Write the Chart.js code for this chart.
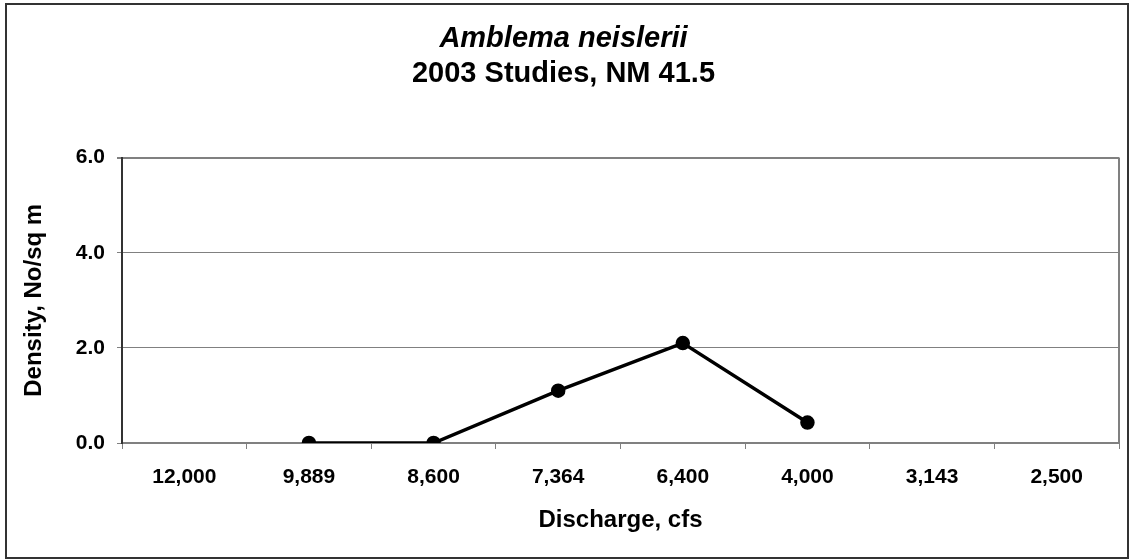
<!DOCTYPE html>
<html>
<head>
<meta charset="utf-8">
<script src="https://cdn.jsdelivr.net/npm/chart.js@4.4.1/dist/chart.umd.min.js"></script>
<style>
    html, body { margin: 0; padding: 0; background: #fff; }
    #wrap { width: 1130px; height: 560px; }
</style>
</head>
<body>
<div id="wrap"><canvas id="grafica" width="1130" height="560"></canvas></div>
<script>
const descargas = ['12,000', '9,889', '8,600', '7,364', '6,400', '4,000', '3,143', '2,500'];
const densidad = [null, 0, 0, 1.1, 2.1, 0.43, null, null];
const ticksY = [0, 2, 4, 6];

const fuente = "'Liberation Sans', Arial, sans-serif";

// marco exterior y borde derecho del área de trazado
const marco = {
    id: 'marco',
    beforeDraw(chart) {
        const ctx = chart.ctx;
        ctx.save();
        ctx.fillStyle = '#fff';
        ctx.fillRect(0, 0, chart.width, chart.height);
        ctx.restore();
    },
    afterDraw(chart) {
        const ctx = chart.ctx;
        const a = chart.chartArea;
        ctx.save();
        ctx.strokeStyle = '#808080';
        ctx.lineWidth = 2;
        ctx.beginPath();
        ctx.moveTo(a.right, a.top);
        ctx.lineTo(a.right, a.bottom);
        ctx.stroke();
        ctx.strokeStyle = '#333';
        ctx.lineWidth = 2;
        ctx.strokeRect(6, 4, chart.width - 8, chart.height - 6);
        ctx.restore();
    }
};

new Chart(document.getElementById('grafica'), {
    type: 'line',
    data: {
        labels: descargas,
        datasets: [{
            label: 'Amblema neislerii',
            data: densidad,
            borderColor: '#000',
            backgroundColor: '#000',
            borderWidth: 3.5,
            pointRadius: 5.5,
            pointBackgroundColor: '#000',
            pointBorderColor: '#000',
            tension: 0
        }]
    },
    options: {
        responsive: false,
        devicePixelRatio: 1,
        animation: false,
        layout: { padding: { left: 8, right: 11, top: 0, bottom: 0 } },
        plugins: {
            legend: { display: false },
            tooltip: { enabled: false },
            title: {
                display: true,
                text: 'Amblema neislerii',
                color: '#000',
                font: { family: fuente, size: 29, weight: 'bold', style: 'italic', lineHeight: 1.2 },
                padding: { top: 22, bottom: 0 }
            },
            subtitle: {
                display: true,
                text: '2003 Studies, NM 41.5',
                color: '#000',
                font: { family: fuente, size: 29, weight: 'bold', lineHeight: 1.2 },
                padding: { top: 0, bottom: 66 }
            }
        },
        scales: {
            x: {
                offset: true,
                afterFit: s => { s.height = 117; },
                grid: {
                    offset: true,
                    drawOnChartArea: false,
                    drawTicks: true,
                    tickLength: 6,
                    color: '#808080'
                },
                border: { color: '#808080', width: 2 },
                ticks: {
                    color: '#000',
                    padding: 16,
                    maxRotation: 0,
                    font: { family: fuente, size: 21, weight: 'bold' }
                },
                title: {
                    display: true,
                    text: 'Discharge, cfs',
                    color: '#000',
                    font: { family: fuente, size: 24, weight: 'bold', lineHeight: 1.2 },
                    padding: { top: 0, bottom: 25 }
                }
            },
            y: {
                min: 0,
                max: 6,
                afterFit: s => { s.width = 114; },
                afterBuildTicks: s => { s.ticks = ticksY.map(v => ({ value: v })); },
                grid: {
                    color: '#808080',
                    lineWidth: c => (c.tick && c.tick.value === 6 ? 2 : 1),
                    tickLength: 5
                },
                border: { color: '#333', width: 2 },
                ticks: {
                    color: '#000',
                    padding: 12,
                    font: { family: fuente, size: 21, weight: 'bold' },
                    callback: v => Number(v).toFixed(1)
                },
                title: {
                    display: true,
                    text: 'Density, No/sq m',
                    color: '#000',
                    font: { family: fuente, size: 24, weight: 'bold', lineHeight: 1.2 },
                    padding: { top: 12, bottom: 0 }
                }
            }
        }
    },
    plugins: [marco]
});
</script>
</body>
</html>
